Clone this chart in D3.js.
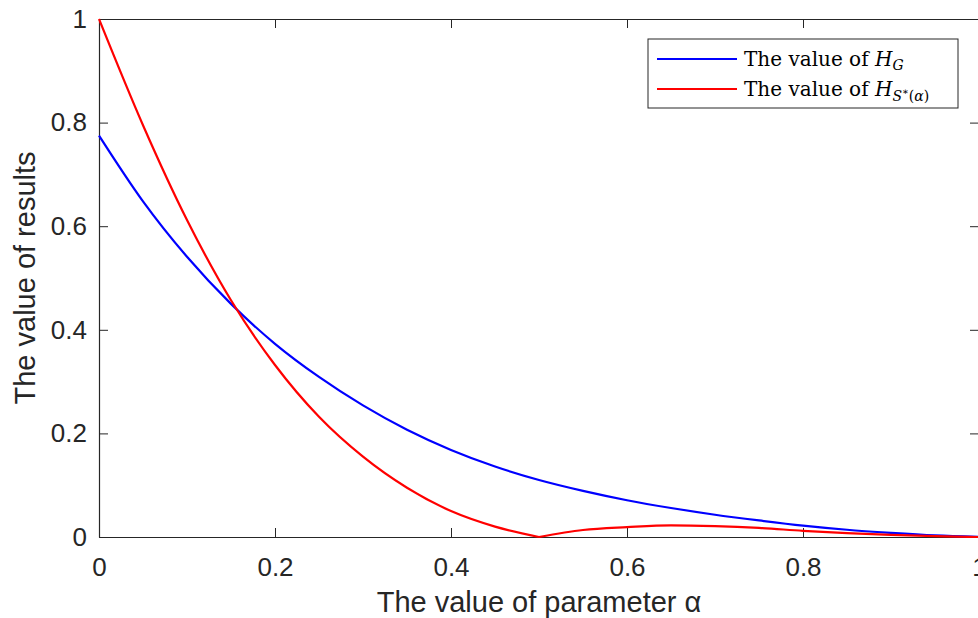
<!DOCTYPE html>
<html>
<head>
<meta charset="utf-8">
<script src="https://cdn.jsdelivr.net/npm/d3@7"></script>
<style>
body{margin:0;background:#fff;}
</style>
</head>
<body>
<div id="chart"></div>
<script>
var alphaVals=[0,0.05,0.1,0.15,0.2,0.25,0.3,0.35,0.4,0.45,0.5,0.55,0.6,0.65,0.7,0.75,0.8,0.85,0.9,0.95,1]
var hG=[0.775,0.648,0.541,0.45,0.373,0.309,0.254,0.207,0.168,0.136,0.11,0.089,0.071,0.056,0.043,0.032,0.022,0.014,0.008,0.003,0]
var hS=[1.0,0.795,0.612,0.457,0.332,0.232,0.155,0.095,0.05,0.02,0,0.0135,0.019,0.0225,0.021,0.0175,0.012,0.0075,0.004,0.0015,0]
var xTicks=[0,0.2,0.4,0.6,0.8,1]
var yTicks=[0,0.2,0.4,0.6,0.8,1]

var svgWidth=978
var svgHeight=618
var margin={top:19,left:99}
var chartWidth=880
var chartHeight=518

var svg=d3.select("#chart")
    .append("svg")
    .attr("width",svgWidth)
    .attr("height",svgHeight)

var chartGroup=svg.append("g")
    .attr("transform",`translate(${margin.left},${margin.top})`)

var xScale=d3.scaleLinear().domain([0,1]).range([0,chartWidth])
var yScale=d3.scaleLinear().domain([0,1]).range([chartHeight,0])

var axisColor="#262626"
var tickFont="'Liberation Sans', Arial, Helvetica, sans-serif"

// axes (MATLAB style, ticks inside, box on)
var bottomAxis=d3.axisBottom(xScale).tickValues(xTicks).tickSizeInner(-9).tickSizeOuter(0).tickPadding(14).tickFormat(d3.format("~g"))
var topAxis=d3.axisTop(xScale).tickValues(xTicks).tickSizeInner(-9).tickSizeOuter(0).tickFormat("")
var leftAxis=d3.axisLeft(yScale).tickValues(yTicks).tickSizeInner(-9).tickSizeOuter(0).tickPadding(12).tickFormat(d3.format("~g"))
var rightAxis=d3.axisRight(yScale).tickValues(yTicks).tickSizeInner(-9).tickSizeOuter(0).tickFormat("")

function styleAxis(g){
    g.select(".domain").attr("stroke",axisColor).attr("stroke-width",1.2)
    g.selectAll(".tick line").attr("stroke",axisColor).attr("stroke-width",1)
    g.selectAll(".tick text").attr("fill",axisColor).attr("font-family",tickFont).attr("font-size","26px")
}

var xAxis=chartGroup.append("g")
    .attr("transform",`translate(0,${chartHeight})`)
    .call(bottomAxis)
    .call(styleAxis)
xAxis.selectAll(".tick text").attr("dy","0.95em")

chartGroup.append("g").call(topAxis).call(styleAxis)
chartGroup.append("g").call(leftAxis).call(styleAxis)
chartGroup.append("g").attr("transform",`translate(${chartWidth},0)`).call(rightAxis).call(styleAxis)

// curves
var blueData=alphaVals.map((a,i)=>({a:a,v:hG[i]}))
var redData=alphaVals.map((a,i)=>({a:a,v:hS[i]}))

var line=d3.line()
    .x(d=>xScale(d.a))
    .y(d=>yScale(d.v))
    .curve(d3.curveMonotoneX)

chartGroup.append("path")
    .datum(blueData)
    .attr("d",line)
    .attr("fill","none")
    .attr("stroke","#0000ff")
    .attr("stroke-width",2.2)

// red has a kink at alpha = 0.5, draw two pieces
var kink=alphaVals.indexOf(0.5)
chartGroup.append("path")
    .datum(redData.slice(0,kink+1))
    .attr("d",line)
    .attr("fill","none")
    .attr("stroke","#ff0000")
    .attr("stroke-width",2.2)
chartGroup.append("path")
    .datum(redData.slice(kink))
    .attr("d",line)
    .attr("fill","none")
    .attr("stroke","#ff0000")
    .attr("stroke-width",2.2)

// axis labels
svg.append("text")
    .attr("x",margin.left+chartWidth/2-0)
    .attr("y",612)
    .attr("text-anchor","middle")
    .attr("font-family",tickFont)
    .attr("font-size","29px")
    .attr("fill",axisColor)
    .text("The value of parameter α")

svg.append("text")
    .attr("transform",`translate(35,${margin.top+chartHeight/2}) rotate(-90)`)
    .attr("text-anchor","middle")
    .attr("font-family",tickFont)
    .attr("font-size","29px")
    .attr("fill",axisColor)
    .text("The value of results")

// legend
var serif="'DejaVu Serif', 'Liberation Serif', serif"
var legend=svg.append("g")
legend.append("rect")
    .attr("x",648).attr("y",39)
    .attr("width",310).attr("height",69)
    .attr("fill","#fff")
    .attr("stroke",axisColor)
    .attr("stroke-width",1)

var legendItems=[{color:"#0000ff",y:59,sub:"G"},{color:"#ff0000",y:89,sub:"S"}]
legendItems.forEach(function(item){
    legend.append("line")
        .attr("x1",657).attr("x2",737)
        .attr("y1",item.y).attr("y2",item.y)
        .attr("stroke",item.color)
        .attr("stroke-width",2.2)
    var t=legend.append("text")
        .attr("x",744)
        .attr("y",item.y+7)
        .attr("font-family",serif)
        .attr("font-size","20px")
        .attr("fill","#000")
    t.append("tspan").text("The value of ")
    t.append("tspan").attr("font-style","italic").text("H")
    if(item.sub=="G"){
        t.append("tspan").attr("font-style","italic").attr("font-size","14px").attr("dy",4).text("G")
    }
    else{
        t.append("tspan").attr("font-style","italic").attr("font-size","14px").attr("dy",5).text("S")
        t.append("tspan").attr("font-size","10px").attr("dy",-6).text("∗")
        t.append("tspan").attr("font-size","14px").attr("dy",6).text("(")
        t.append("tspan").attr("font-style","italic").attr("font-size","14px").text("α")
        t.append("tspan").attr("font-size","14px").text(")")
    }
})
</script>
</body>
</html>
